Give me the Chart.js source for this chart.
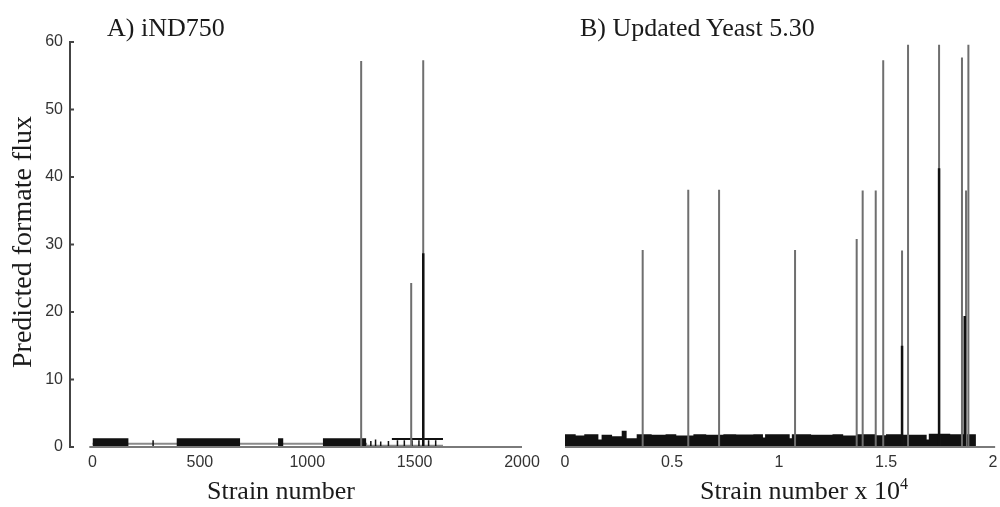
<!DOCTYPE html>
<html lang="en">
<head>
<meta charset="UTF-8">
<title>Predicted formate flux</title>
<script src="https://cdn.jsdelivr.net/npm/chart.js"></script>
</head>
<body style="margin:0; background:#fff;">
<div style="position:relative; width:1000px; height:507px; overflow:hidden; font-family:'Liberation Serif','Times New Roman',serif; color:#1a1a1a;">
  <canvas id="left" width="560" height="507" style="position:absolute; left:0; top:0;"></canvas>
  <canvas id="right" width="480" height="507" style="position:absolute; left:540px; top:0;"></canvas>
  <div style="position:absolute; left:107px; top:15px; font-size:26px; line-height:26px; white-space:nowrap;">A) iND750</div>
  <div style="position:absolute; left:580px; top:15px; font-size:26px; line-height:26px; white-space:nowrap;">B) Updated Yeast 5.30</div>
  <div style="position:absolute; left:207px; top:478px; font-size:26px; line-height:26px; white-space:nowrap;">Strain number</div>
  <div style="position:absolute; left:700px; top:478px; font-size:26px; line-height:26px; white-space:nowrap;">Strain number x 10<sup style="font-size:16px; line-height:0; vertical-align:10px;">4</sup></div>
  <div style="position:absolute; left:-128px; top:227px; width:300px; height:30px; font-size:28px; line-height:30px; text-align:center; white-space:nowrap; transform:rotate(-90deg);">Predicted formate flux</div>
</div>

<script>
// A) iND750
const leftTicks = [0, 500, 1000, 1500, 2000];
const leftSpikeX = [1251, 1484, 1540];
const leftSpikeY = [57.2, 24.3, 57.3];
const leftDarkX = [1540];
const leftDarkY = [28.7];
const leftSmallX = [282, 1296, 1318, 1342, 1378, 1420, 1452, 1488, 1520, 1565, 1598];
const leftSmallY = [1.0, 0.9, 1.1, 0.8, 0.9, 1.0, 1.0, 1.0, 1.0, 1.0, 1.0];
const leftBlockX = [0, 167, 392, 687, 864, 888, 1073, 1274, 1632];
const leftBlockY = [1.3, 0, 1.3, 0, 1.3, 0, 1.3, 0, 0];
const leftCombX = [1394, 1632];
const leftCombY = [1.2, 1.2];
const leftLowX = [0, 1274, 1632];
const leftLowY = [0.5, 0.2, 0.2];

// B) Updated Yeast 5.30 (strain number x 10^4)
const rightTicks = [0, 0.5, 1, 1.5, 2];
const rightSpikeX = [0.363, 0.576, 0.720, 1.075, 1.363, 1.391, 1.452, 1.487, 1.575, 1.603, 1.748, 1.855, 1.874, 1.885];
const rightSpikeY = [29.2, 38.1, 38.1, 29.2, 30.8, 38.0, 38.0, 57.3, 29.1, 59.6, 59.6, 57.7, 38.0, 59.6];
const rightDarkX = [1.575, 1.748, 1.868];
const rightDarkY = [15.0, 41.3, 19.4];
const rightBaseX = [0, 0.05, 0.09, 0.156, 0.171, 0.22, 0.265, 0.288, 0.335, 0.405, 0.47, 0.52, 0.60, 0.66, 0.74, 0.80, 0.88, 0.925, 0.935, 1.05, 1.06, 1.15, 1.25, 1.30, 1.36, 1.45, 1.50, 1.58, 1.69, 1.70, 1.80, 1.92];
const rightBaseY = [1.9, 1.7, 1.9, 1.1, 1.8, 1.6, 2.4, 1.3, 1.9, 1.8, 1.9, 1.7, 1.9, 1.8, 1.9, 1.85, 1.9, 1.4, 1.9, 1.3, 1.9, 1.8, 1.9, 1.7, 1.9, 1.75, 1.9, 1.8, 1.1, 1.95, 1.9, 0];

const tickFont = { family: "'Liberation Sans', Arial, sans-serif", size: 16 };
const tickColor = '#333';

function spikes(xs, ys) {
    const pts = [];
    xs.forEach((x, i) => { pts.push({ x: x, y: 0 }, { x: x, y: ys[i] }, { x: x, y: null }); });
    return pts;
}
function steps(xs, ys) {
    return xs.map((x, i) => ({ x: x, y: ys[i] }));
}

// axis line along y=0 and small inward ticks on the y axis
const axisLines = {
    id: 'axisLines',
    afterDatasetsDraw(chart, args, opts) {
        const ctx = chart.ctx;
        const x = chart.scales.x, y = chart.scales.y;
        ctx.save();
        ctx.strokeStyle = '#7a7a7a';
        ctx.lineWidth = 2;
        ctx.beginPath();
        ctx.moveTo(x.getPixelForValue(opts.from), y.getPixelForValue(0));
        ctx.lineTo(x.getPixelForValue(opts.to), y.getPixelForValue(0));
        ctx.stroke();
        if (opts.yTicks) {
            ctx.strokeStyle = '#444';
            ctx.beginPath();
            y.ticks.forEach(t => {
                const py = y.getPixelForValue(t.value);
                ctx.moveTo(chart.chartArea.left, py);
                ctx.lineTo(chart.chartArea.left + 4, py);
            });
            ctx.stroke();
        }
        ctx.restore();
    }
};

function datasetsFor(spk, dark, extra) {
    return extra.concat([
        { data: spk, borderColor: '#6f6f6f', borderWidth: 2, pointRadius: 0, spanGaps: false, order: 1 },
        { data: dark, borderColor: '#111', borderWidth: 2.5, pointRadius: 0, spanGaps: false, order: 0 }
    ]);
}

const plainLabel = v => String(v);

new Chart(document.getElementById('left'), {
    type: 'line',
    data: {
        datasets: datasetsFor(spikes(leftSpikeX, leftSpikeY), spikes(leftDarkX, leftDarkY), [
            { data: steps(leftLowX, leftLowY), stepped: true, borderColor: '#8a8a8a', borderWidth: 2, pointRadius: 0, order: 5 },
            { data: steps(leftBlockX, leftBlockY), stepped: true, fill: 'origin', backgroundColor: '#111', borderWidth: 0, pointRadius: 0, order: 4 },
            { data: steps(leftCombX, leftCombY), borderColor: '#111', borderWidth: 2, pointRadius: 0, order: 3 },
            { data: spikes(leftSmallX, leftSmallY), borderColor: '#111', borderWidth: 1.5, pointRadius: 0, spanGaps: false, order: 2 }
        ])
    },
    options: {
        responsive: false,
        animation: false,
        layout: { padding: { top: 42, right: 38, bottom: 0, left: 0 } },
        plugins: {
            legend: { display: false },
            tooltip: { enabled: false },
            axisLines: { from: -15, to: 2000, yTicks: true }
        },
        scales: {
            x: {
                type: 'linear', min: -105, max: 2000,
                afterBuildTicks: s => { s.ticks = leftTicks.map(v => ({ value: v })); },
                afterFit: s => { s.height = 60; },
                grid: { display: false, drawTicks: false },
                border: { display: false },
                ticks: { color: tickColor, font: tickFont, padding: 6, maxRotation: 0, callback: plainLabel }
            },
            y: {
                min: 0, max: 60,
                afterFit: s => { s.width = 70; },
                grid: { display: false, drawTicks: false },
                border: { display: true, color: '#444', width: 2 },
                ticks: { stepSize: 10, color: tickColor, font: tickFont, padding: 7 }
            }
        }
    },
    plugins: [axisLines]
});

new Chart(document.getElementById('right'), {
    type: 'line',
    data: {
        datasets: datasetsFor(spikes(rightSpikeX, rightSpikeY), spikes(rightDarkX, rightDarkY), [
            { data: steps(rightBaseX, rightBaseY), stepped: true, fill: 'origin', backgroundColor: '#111', borderWidth: 0, pointRadius: 0, order: 4 }
        ])
    },
    options: {
        responsive: false,
        animation: false,
        layout: { padding: { top: 42, right: 27, bottom: 0, left: 25 } },
        plugins: {
            legend: { display: false },
            tooltip: { enabled: false },
            axisLines: { from: 0, to: 2.01, yTicks: false }
        },
        scales: {
            x: {
                type: 'linear', min: 0, max: 2,
                afterBuildTicks: s => { s.ticks = rightTicks.map(v => ({ value: v })); },
                afterFit: s => { s.height = 60; },
                grid: { display: false, drawTicks: false },
                border: { display: false },
                ticks: { color: tickColor, font: tickFont, padding: 6, maxRotation: 0, callback: plainLabel }
            },
            y: { display: false, min: 0, max: 60 }
        }
    },
    plugins: [axisLines]
});
</script>
</body>
</html>
